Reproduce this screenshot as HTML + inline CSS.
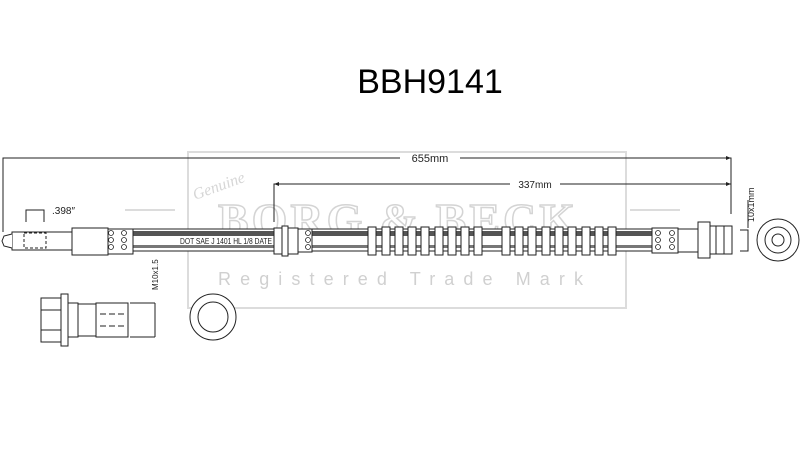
<!DOCTYPE html>
<html><head><style>body{margin:0;background:#fff}svg{display:block}</style></head><body>
<svg width="800" height="464" viewBox="0 0 800 464" xmlns="http://www.w3.org/2000/svg" font-family="Liberation Sans, sans-serif">
<rect width="800" height="464" fill="#fff"/>
<!-- watermark -->
<g fill="none" stroke="#dcdcdc" stroke-width="2">
<path d="M188 152 L626 152 L626 308 L188 308 Z"/>
<path d="M125 210 L175 210 M125 232 L175 232 M630 210 L680 210 M630 232 L680 232"/>
</g>
<text x="218" y="235" font-size="46" font-weight="bold" fill="none" stroke="#d4d4d4" stroke-width="1.5" letter-spacing="3" font-family="Liberation Serif, serif" textLength="360" lengthAdjust="spacingAndGlyphs">BORG &amp; BECK</text>
<text x="218" y="285" font-size="18" fill="#d0d0d0" textLength="365" lengthAdjust="spacing">Registered Trade Mark</text>
<text x="195" y="200" font-size="16" font-style="italic" fill="#d6d6d6" font-family="Liberation Serif, serif" transform="rotate(-20 195 200)">Genuine</text>
<!-- title -->
<text x="430" y="93" font-size="34" text-anchor="middle" fill="#000">BBH9141</text>
<!-- dimensions -->
<g stroke="#222" stroke-width="1" fill="none">
<path d="M3 232 V158 H400 M460 158 H731 V214"/>
<path d="M274 222 V184 H510 M560 184 H731"/>
<path d="M26 222 V210 H44 V222"/>
<path d="M740 230 H748 V251 H740 M748 200 V228"/>
</g>
<g fill="#222"><path d="M731 158 l-5 -2 v4z M731 184 l-5 -2 v4z M274 184 l5 -2 v4z"/></g>
<text x="430" y="162" font-size="11" text-anchor="middle" fill="#222">655mm</text>
<text x="535" y="188" font-size="10" text-anchor="middle" fill="#222">337mm</text>
<text x="52" y="214" font-size="10" fill="#222">.398″</text>
<text x="0" y="0" font-size="9" fill="#222" transform="translate(754,222) rotate(-90)">10x1mm</text>
<text x="0" y="0" font-size="8" fill="#222" transform="translate(158,290) rotate(-90)">M10x1.5</text>
<!-- hose -->
<rect x="133" y="229" width="522" height="22" fill="#fff" stroke="#222"/>
<rect x="133" y="231" width="522" height="5" fill="#555"/>
<rect x="133" y="245" width="522" height="3" fill="#777"/>
<rect x="178" y="236" width="96" height="9" fill="#fff"/>
<text x="180" y="244" font-size="8" fill="#222" textLength="92" lengthAdjust="spacingAndGlyphs">DOT SAE J 1401 HL 1/8 DATE</text>
<!-- collar -->
<g fill="#fff" stroke="#222">
<rect x="274" y="228" width="8" height="26"/>
<rect x="282" y="226" width="6" height="30"/>
<rect x="288" y="228" width="10" height="26"/>
<rect x="298" y="229" width="14" height="23"/>
</g>
<!-- spring guard ribs -->
<g fill="#fff" stroke="#222">
<rect x="368" y="227" width="8" height="28"/><rect x="382" y="227" width="8" height="28"/><rect x="395" y="227" width="8" height="28"/><rect x="408" y="227" width="8" height="28"/><rect x="421" y="227" width="8" height="28"/><rect x="435" y="227" width="8" height="28"/><rect x="448" y="227" width="8" height="28"/><rect x="461" y="227" width="8" height="28"/><rect x="474" y="227" width="8" height="28"/><rect x="502" y="227" width="8" height="28"/><rect x="515" y="227" width="8" height="28"/><rect x="528" y="227" width="8" height="28"/><rect x="542" y="227" width="8" height="28"/><rect x="555" y="227" width="8" height="28"/><rect x="568" y="227" width="8" height="28"/><rect x="582" y="227" width="8" height="28"/><rect x="595" y="227" width="8" height="28"/><rect x="608" y="227" width="8" height="28"/>
</g>
<!-- fittings -->
<g fill="#fff" stroke="#222">
<path d="M12 232 H72 V250 H12 Z"/>
<path d="M12 234 L4 236 L2 241 L4 246 L12 248"/>
<rect x="72" y="228" width="36" height="27"/>
<rect x="108" y="229" width="25" height="25"/>
<rect x="24" y="233" width="22" height="15" stroke-dasharray="3 2"/>
<rect x="652" y="228" width="26" height="25"/>
<rect x="678" y="229" width="20" height="23"/>
<rect x="698" y="222" width="12" height="36"/>
<rect x="710" y="226" width="22" height="28"/>
<path d="M716 226 V254 M724 226 V254"/>
<circle cx="778" cy="240" r="21"/><circle cx="778" cy="240" r="13"/><circle cx="778" cy="240" r="6"/>
</g>
<g fill="none" stroke="#222" stroke-width="0.8">
<circle cx="111" cy="233" r="2.5"/><circle cx="111" cy="240" r="2.5"/><circle cx="111" cy="247" r="2.5"/>
<circle cx="124" cy="233" r="2.5"/><circle cx="124" cy="240" r="2.5"/><circle cx="124" cy="247" r="2.5"/>
<circle cx="658" cy="233" r="2.5"/><circle cx="658" cy="240" r="2.5"/><circle cx="658" cy="247" r="2.5"/>
<circle cx="672" cy="233" r="2.5"/><circle cx="672" cy="240" r="2.5"/><circle cx="672" cy="247" r="2.5"/>
<circle cx="308" cy="233" r="2.5"/><circle cx="308" cy="240" r="2.5"/><circle cx="308" cy="247" r="2.5"/>
</g>
<!-- bolt -->
<g fill="#fff" stroke="#222">
<rect x="41" y="298" width="22" height="44"/>
<path d="M41 310 H63 M41 330 H63"/>
<rect x="61" y="294" width="7" height="52"/>
<rect x="68" y="303" width="10" height="34"/>
<rect x="78" y="304" width="18" height="32"/>
<rect x="96" y="303" width="32" height="34"/>
<path d="M130 303 H155 M130 337 H155 M155 303 V337" fill="none"/>
<path d="M100 314 H126 M100 326 H126" stroke-dasharray="6 3" fill="none"/>
<circle cx="213" cy="317" r="23"/><circle cx="213" cy="317" r="15"/>
</g>
</svg>
</body></html>
